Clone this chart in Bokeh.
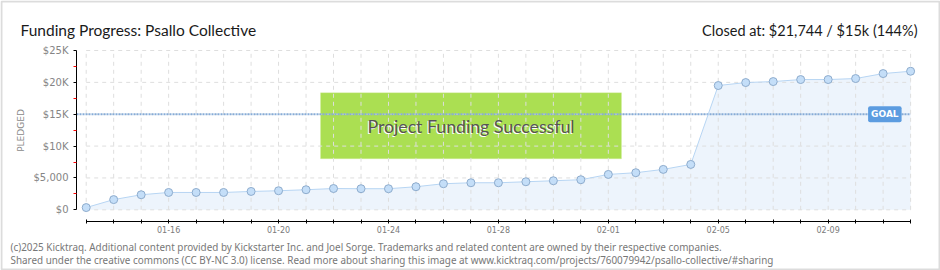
import math
from bokeh.plotting import figure
from bokeh.models import FixedTicker, Label, BoxAnnotation
from bokeh.embed import file_html
from bokeh.resources import INLINE

# ---------------- data ----------------
dates = ["01-13", "01-14", "01-15", "01-16", "01-17", "01-18", "01-19", "01-20",
         "01-21", "01-22", "01-23", "01-24", "01-25", "01-26", "01-27", "01-28",
         "01-29", "01-30", "01-31", "02-01", "02-02", "02-03", "02-04", "02-05",
         "02-06", "02-07", "02-08", "02-09", "02-10", "02-11", "02-12"]
pledged = [350, 1600, 2360, 2720, 2720, 2720, 2880, 2990,
           3150, 3340, 3310, 3310, 3620, 4090, 4245, 4245,
           4400, 4560, 4720, 5550, 5820, 6340, 7120, 19500,
           19970, 20125, 20440, 20440, 20600, 21380, 21744]
goal = 15000
x_tick_labels = ["01-16", "01-20", "01-24", "01-28", "02-01", "02-05", "02-09"]
y_ticks = [0, 5000, 10000, 15000, 20000, 25000]
y_tick_labels = ["$0", "$5,000", "$10K", "$15K", "$20K", "$25K"]
y_minor_ticks = [2500, 7500, 12500, 17500, 22500]
title_text = "Funding Progress: Psallo Collective"
closed_text = "Closed at: $21,744 / $15k (144%)"
banner_text = "Project Funding Successful"
footer_1 = ("(c)2025 Kicktraq. Additional content provided by Kickstarter Inc. and Joel Sorge. "
            "Trademarks and related content are owned by their respective companies.")
footer_2 = ("Shared under the creative commons (CC BY-NC 3.0) license. Read more about sharing "
            "this image at www.kicktraq.com/projects/760079942/psallo-collective/#sharing")

# ---------------- layout (frame = whole canvas) ----------------
W, H = 940, 270
X0_PX, DAY_PX = 85.7, 27.48       # pixel of first day, pixels per day
Y0_PX, PX_PER_K = 209.3, 6.372    # pixel of $0, pixels per $1000
AXIS_X_PX, AXIS_Y_PX = 76, 221    # where the y axis / x axis lines sit


def px_to_x(px):
    return (px - X0_PX) / DAY_PX


def px_to_y(py):
    return (Y0_PX - py) / PX_PER_K * 1000


def sx(cx):
    return cx


def sy(cy):
    return H - cy


days = list(range(len(dates)))

p = figure(width=W, height=H, output_backend="svg", toolbar_location=None,
           x_range=(px_to_x(0), px_to_x(W)), y_range=(px_to_y(H), px_to_y(0)),
           min_border=0, min_border_left=0, min_border_right=0,
           min_border_top=0, min_border_bottom=0)
p.title.visible = False
p.xgrid.visible = False
p.ygrid.visible = False
p.outline_line_color = None
p.background_fill_color = "white"
p.border_fill_color = "white"

# area under the curve
p.varea(x=days, y1=0, y2=pledged, fill_color="#dbe9f9", fill_alpha=0.5)

# dashed grid limited to the data region
grid_color = "#dedede"
p.segment(x0=days, x1=days, y0=y_ticks[0], y1=y_ticks[-1],
          line_color=grid_color, line_dash="4 4", line_width=1)
p.segment(x0=days[0], x1=days[-1], y0=y_ticks, y1=y_ticks,
          line_color=grid_color, line_dash="4 4", line_width=1)

# success banner
b_left, b_right = px_to_x(320), px_to_x(621)
b_top, b_bottom = px_to_y(92.3), px_to_y(158.3)
p.add_layout(BoxAnnotation(left=b_left, right=b_right, bottom=b_bottom, top=b_top,
                           fill_color="#abdf52", fill_alpha=1.0,
                           line_color="#d3eda2", line_width=1, level="underlay"))

# goal line
p.segment(x0=px_to_x(AXIS_X_PX), x1=days[-1], y0=goal, y1=goal,
          line_color="#86acd8", line_width=2, line_dash="2 1")

# pledged line + points
p.line(days, pledged, line_color="#b7d5f3", line_width=1)
p.scatter(days, pledged, size=8, fill_color="#c4def8", line_color="#8eaccd", line_width=1)

# ---------------- axes ----------------
xa = p.xaxis[0]
xa.fixed_location = px_to_y(AXIS_Y_PX)
xa.ticker = FixedTicker(ticks=days)
xa.major_label_overrides = {i: (d if d in x_tick_labels else "") for i, d in zip(days, dates)}
xa.bounds = (days[0], days[-1])
xa.axis_line_color = "black"
xa.major_tick_line_color = "black"
xa.major_tick_in = 2
xa.major_tick_out = 2
xa.minor_tick_line_color = None
xa.major_label_standoff = 2
xa.major_label_text_font = "DejaVu Sans"
xa.major_label_text_font_size = "8px"
xa.major_label_text_color = "#7a7a7a"

ya = p.yaxis[0]
ya.fixed_location = px_to_x(AXIS_X_PX)
ya.ticker = FixedTicker(ticks=y_ticks, minor_ticks=y_minor_ticks)
ya.major_label_overrides = {t: s for t, s in zip(y_ticks, y_tick_labels)}
ya.bounds = (y_ticks[0], y_ticks[-1])
ya.axis_line_color = "black"
ya.major_tick_line_color = "black"
ya.major_tick_in = 0
ya.major_tick_out = 3
ya.minor_tick_line_color = "#ff0000"
ya.minor_tick_in = 0
ya.minor_tick_out = 3
ya.major_label_standoff = 5
ya.major_label_text_font = "DejaVu Sans"
ya.major_label_text_font_size = "10px"
ya.major_label_text_color = "#858585"

# ---------------- texts ----------------
p.add_layout(Label(x=sx(20), y=sy(130), x_units="screen", y_units="screen",
                   text="PLEDGED", angle=math.pi / 2, text_align="center",
                   text_baseline="middle", text_font="DejaVu Sans",
                   text_font_size="9px", text_color="#8a8a8a"))

p.add_layout(Label(x=sx(20), y=sy(29.5), x_units="screen", y_units="screen",
                   text=title_text, text_align="left", text_baseline="alphabetic",
                   text_font="Lato", text_font_size="15.5px",
                   text_color="#1a1a1a"))
p.add_layout(Label(x=sx(917), y=sy(29.5), x_units="screen", y_units="screen",
                   text=closed_text, text_align="right", text_baseline="alphabetic",
                   text_font="Lato", text_font_size="14.5px",
                   text_color="#1a1a1a"))

bx = (b_left + b_right) / 2
by = px_to_y(126)
p.add_layout(Label(x=bx, y=by, x_offset=-1, y_offset=-1, text=banner_text,
                   text_align="center", text_baseline="middle",
                   text_font="Lato", text_font_size="17.7px",
                   text_color="white"))
p.add_layout(Label(x=bx, y=by, text=banner_text,
                   text_align="center", text_baseline="middle",
                   text_font="Lato", text_font_size="17.7px",
                   text_color="#555555"))

p.add_layout(Label(x=days[-1], y=goal, x_offset=-9, text="GOAL",
                   text_align="right", text_baseline="middle",
                   text_font="DejaVu Sans", text_font_style="bold",
                   text_font_size="9px", text_color="white",
                   background_fill_color="#5c9ce0", background_fill_alpha=1.0,
                   padding=3, border_radius=2))

p.add_layout(Label(x=sx(10), y=sy(246.5), x_units="screen", y_units="screen",
                   text=footer_1, text_align="left", text_baseline="alphabetic",
                   text_font="Noto Sans", text_font_size="9.9px", text_color="#777777"))
p.add_layout(Label(x=sx(10), y=sy(259), x_units="screen", y_units="screen",
                   text=footer_2, text_align="left", text_baseline="alphabetic",
                   text_font="Noto Sans", text_font_size="9.9px", text_color="#777777"))

# outer frame of the image
p.add_layout(BoxAnnotation(left=sx(1), right=sx(939), top=sy(1), bottom=sy(269),
                           left_units="screen", right_units="screen",
                           top_units="screen", bottom_units="screen",
                           fill_alpha=0, line_color="#8a8a8a", line_width=2))

open("out.html", "w").write(file_html(p, INLINE))
